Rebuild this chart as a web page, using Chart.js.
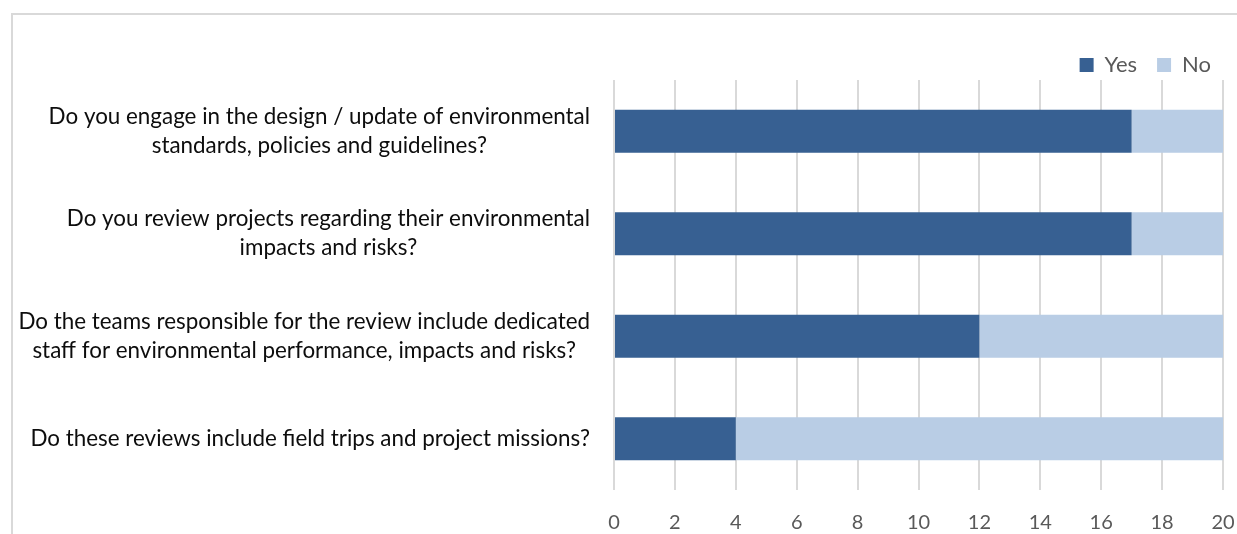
<!DOCTYPE html>
<html>
<head>
<meta charset="utf-8">
<script src="https://cdn.jsdelivr.net/npm/chart.js@4"></script>
<style>
  body { margin: 0; background: #fff; overflow: hidden; }
  .frame { position: absolute; left: 11px; top: 13px; width: 1400px; height: 700px;
    border-top: 2px solid #d9d9d9; border-left: 2px solid #d9d9d9; }
  .wrap { position: absolute; left: 0; top: 0; width: 1237px; height: 534px; }
</style>
</head>
<body>
<div class="frame"></div>
<div class="wrap"><canvas id="chart"></canvas></div>
<script>
// вопросы (категории)
const questions = [
  ["Do you engage in the design / update of environmental", "standards, policies and guidelines?"],
  ["Do you review projects regarding their environmental", "impacts and risks?"],
  ["Do the teams responsible for the review include dedicated", "staff for environmental performance, impacts and risks?"],
  ["Do these reviews include field trips and project missions?"],
];
const yesValues = [17, 17, 12, 4];
const noValues = [3, 3, 8, 16];
const xTicks = [0, 2, 4, 6, 8, 10, 12, 14, 16, 18, 20];

const FONT = "Lato";
const LABEL_SIZE = 22.4;
const LINE_H = 29;
const LEGEND_PAD = 20;

// подписи категорий: блок прижат вправо, строки по центру блока
const questionLabels = {
  id: "questionLabels",
  afterInit(chart) {
    // легенда занимает меньше места по высоте, без обрезки
    const legend = chart.legend;
    const fit = legend.fit;
    legend.fit = function () {
      fit.call(this);
      this.height -= 6;
    };
    legend.draw = function () {
      if (this.options.display) this._draw();
    };
  },
  afterDraw(chart) {
    const ctx = chart.ctx;
    const scale = chart.scales.y;
    const right = chart.chartArea.left - 24;
    ctx.save();
    ctx.font = LABEL_SIZE + "px " + FONT;
    ctx.fillStyle = "#0d0d0d";
    ctx.textAlign = "center";
    ctx.textBaseline = "middle";
    questions.forEach((lines, i) => {
      const y = scale.getPixelForTick(i);
      const maxW = Math.max(...lines.map((l) => ctx.measureText(l).width));
      const cx = right - maxW / 2;
      lines.forEach((l, j) => {
        ctx.fillText(l, cx, y + (j - (lines.length - 1) / 2) * LINE_H);
      });
    });
    ctx.restore();
  },
};

new Chart(document.getElementById("chart"), {
  type: "bar",
  data: {
    labels: questions,
    datasets: [
      { label: "Yes", data: yesValues, backgroundColor: "#376092" },
      { label: "No", data: noValues, backgroundColor: "#b9cde5" },
    ],
  },
  options: {
    indexAxis: "y",
    responsive: true,
    maintainAspectRatio: false,
    animation: false,
    layout: { padding: { top: 34, right: 6, left: 0, bottom: -1 } },
    datasets: { bar: { categoryPercentage: 1, barPercentage: 0.42 } },
    scales: {
      x: {
        stacked: true,
        min: 0,
        max: 20,
        afterBuildTicks(scale) {
          scale.ticks = xTicks.map((v) => ({ value: v }));
        },
        afterFit(scale) {
          scale.paddingRight = 14;
        },
        grid: { color: "#d9d9d9", lineWidth: 2, drawTicks: true, tickLength: 21, tickColor: "rgba(0,0,0,0)" },
        border: { display: false },
        ticks: { color: "#595959", font: { family: FONT, size: 20 }, padding: 0 },
      },
      y: {
        stacked: true,
        grid: { display: false },
        border: { display: false },
        ticks: { display: false },
        afterFit(scale) {
          scale.width = 614;
        },
      },
    },
    plugins: {
      legend: {
        position: "top",
        align: "end",
        labels: {
          boxWidth: 14,
          boxHeight: 14,
          padding: LEGEND_PAD,
          color: "#595959",
          font: { family: FONT, size: 22 },
        },
      },
      tooltip: { enabled: false },
    },
  },
  plugins: [questionLabels],
});
</script>
</body>
</html>
